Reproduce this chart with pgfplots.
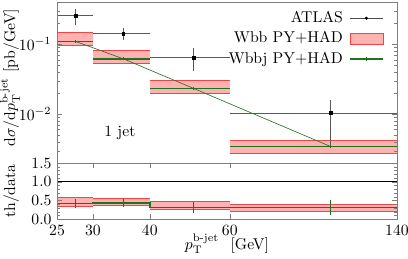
\documentclass[border=0pt]{standalone}
\usepackage{amsmath}
\usepackage{pgfplots}
\pgfplotsset{compat=1.18}
\definecolor{bandfill}{RGB}{255,178,178}
\definecolor{bandedge}{RGB}{240,70,70}
\definecolor{wgreen}{RGB}{30,115,30}
\definecolor{framegray}{RGB}{125,125,125}
\begin{document}
\begin{tikzpicture}
\useasboundingbox (-36.2bp,103.5bp) rectangle (222.9bp,-60.9bp);
\pgfplotsset{
  every axis/.append style={
    scale only axis, width=215.9bp,
    xmode=log, xmin=25, xmax=140,
    axis line style={framegray},
    tick style={framegray},
    major tick length=3.2bp, minor tick length=1.8bp,
    xminorticks=false,
    axis on top,
  }
}
% ---------------- upper panel ----------------
\begin{axis}[name=top, at={(0,0)}, anchor=south west, height=102.2bp,
  ymode=log, ymin=0.002, ymax=0.4,
  xtick=\empty,
  ytick={0.01,0.1},
  minor ytick={0.002,0.003,0.004,0.005,0.006,0.007,0.008,0.009,0.02,0.03,0.04,0.05,0.06,0.07,0.08,0.09,0.2,0.3,0.4},
  ylabel={$\mathrm{d}\sigma/\mathrm{d}p_{\mathrm{T}}^{\text{b-jet}}$ [pb/GeV]},
  ylabel style={at={(axis description cs:-0.123,0.53)}, anchor=base},
  legend style={draw=none, fill=none, at={(axis description cs:0.962,0.965)}, anchor=north east,
    inner sep=0pt, column sep=4bp,
    nodes={inner xsep=0pt, inner ysep=2bp, text height=7bp, text depth=2bp}},
  legend cell align=right,
  legend plot pos=right,
]
\addlegendimage{legend image code/.code={
  \draw[black!70, mark=*, mark size=0.8pt, mark options={black}, mark repeat=2, mark phase=2]
    plot coordinates {(0cm,0cm) (0.37cm,0cm) (0.74cm,0cm)};}}
\addlegendentry{ATLAS}
\addlegendimage{legend image code/.code={
  \draw[fill=bandfill, draw=bandedge] (0cm,-0.12cm) rectangle (0.74cm,0.12cm);}}
\addlegendentry{Wbb PY+HAD}
\addlegendimage{legend image code/.code={
  \draw[wgreen, line width=1pt] (0cm,0cm) -- (0.74cm,0cm);
  \draw[wgreen] (0.37cm,-0.05cm) -- (0.37cm,0.05cm);}}
\addlegendentry{Wbbj PY+HAD}

% Wbb bands
\addplot[fill=bandfill, draw=none, forget plot] coordinates {(25,0.097) (30,0.097) (30,0.146) (25,0.146)} -- cycle;
\addplot[fill=bandfill, draw=none, forget plot] coordinates {(30,0.0528) (40,0.0528) (40,0.080) (30,0.080)} -- cycle;
\addplot[fill=bandfill, draw=none, forget plot] coordinates {(40,0.0197) (60,0.0197) (60,0.0299) (40,0.0299)} -- cycle;
\addplot[fill=bandfill, draw=none, forget plot] coordinates {(60,0.00274) (140,0.00274) (140,0.00416) (60,0.00416)} -- cycle;
\addplot[bandedge, line width=0.6pt, unbounded coords=jump, forget plot] coordinates {
  (25,0.146) (30,0.146) (30,nan)
  (30,0.080) (40,0.080) (40,nan)
  (40,0.0299) (60,0.0299) (60,nan)
  (60,0.00416) (140,0.00416)};
\addplot[bandedge, line width=0.6pt, unbounded coords=jump, forget plot] coordinates {
  (25,0.097) (30,0.097) (30,nan)
  (30,0.0528) (40,0.0528) (40,nan)
  (40,0.0197) (60,0.0197) (60,nan)
  (60,0.00274) (140,0.00274)};
% Wbbj
\addplot[wgreen, line width=1pt, unbounded coords=jump, forget plot] coordinates {
  (25,0.109) (30,0.109) (30,nan)
  (30,0.0617) (40,0.0617) (40,nan)
  (40,0.0232) (60,0.0232) (60,nan)
  (60,0.00344) (140,0.00344)};
\addplot[wgreen, line width=0.4pt, forget plot] coordinates {
  (27.5,0.109) (35,0.0617) (50,0.0232) (100,0.00344)};
\addplot[wgreen, line width=0.6pt, unbounded coords=jump, forget plot] coordinates {
  (27.5,0.104) (27.5,0.114) (27.5,nan)
  (35,0.0587) (35,0.0647) (35,nan)
  (50,0.0220) (50,0.0244) (50,nan)
  (100,0.00326) (100,0.00362)};
% ATLAS
\addplot[black!70, only marks, mark=square*, mark size=0.9pt, mark options={black}, forget plot,
  error bars/.cd, x dir=both, x explicit, y dir=both, y explicit, error mark=none,
  error bar style={black!65, line width=0.5pt}] coordinates {
  (27.5,0.254) += (2.5,0.062) -= (2.5,0.065)
  (35,0.142) += (5,0.029) -= (5,0.027)
  (50,0.0644) += (10,0.025) -= (10,0.023)
  (100,0.0103) += (40,0.0057) -= (40,0.0068)};
\node at (axis description cs:0.185,0.19) {1 jet};
\end{axis}
% ---------------- ratio panel ----------------
\begin{axis}[name=bot, at={(top.south west)}, anchor=north west, height=35.7bp,
  ymin=0, ymax=1.5,
  ytick={0,0.5,1,1.5}, minor y tick num=4,
  yticklabel style={/pgf/number format/.cd, fixed, fixed zerofill, precision=1},
  xtick={25,30,40,60,140}, xticklabels={25,30,40,60,140},
  xlabel={$p_{\mathrm{T}}^{\text{b-jet}}$\hspace{4bp} [GeV]},
  xlabel style={at={(axis description cs:0.5,-0.535)}, anchor=base},
  ylabel={th/data},
  ylabel style={at={(axis description cs:-0.123,0.5)}, anchor=base},
]
\addplot[black, line width=0.8pt] coordinates {(25,1) (140,1)};
\addplot[fill=bandfill, draw=none] coordinates {(25,0.347) (30,0.347) (30,0.579) (25,0.579)} -- cycle;
\addplot[fill=bandfill, draw=none] coordinates {(30,0.373) (40,0.373) (40,0.552) (30,0.552)} -- cycle;
\addplot[fill=bandfill, draw=none] coordinates {(40,0.259) (60,0.259) (60,0.461) (40,0.461)} -- cycle;
\addplot[fill=bandfill, draw=none] coordinates {(60,0.213) (140,0.213) (140,0.40) (60,0.40)} -- cycle;
\addplot[bandedge, line width=0.6pt, unbounded coords=jump] coordinates {
  (25,0.579) (30,0.579) (30,nan)
  (30,0.552) (40,0.552) (40,nan)
  (40,0.461) (60,0.461) (60,nan)
  (60,0.40) (140,0.40)};
\addplot[bandedge, line width=0.6pt, unbounded coords=jump] coordinates {
  (25,0.347) (30,0.347) (30,nan)
  (30,0.373) (40,0.373) (40,nan)
  (40,0.259) (60,0.259) (60,nan)
  (60,0.213) (140,0.213)};
\addplot[wgreen, line width=1pt, const plot] coordinates {
  (25,0.419) (30,0.435) (40,0.312) (60,0.312) (140,0.312)};
\addplot[wgreen, line width=0.8pt, unbounded coords=jump] coordinates {
  (27.5,0.294) (27.5,0.544) (27.5,nan)
  (35,0.325) (35,0.545) (35,nan)
  (50,0.172) (50,0.452) (50,nan)
  (100,0.112) (100,0.512)};
\end{axis}
\end{tikzpicture}
\end{document}
